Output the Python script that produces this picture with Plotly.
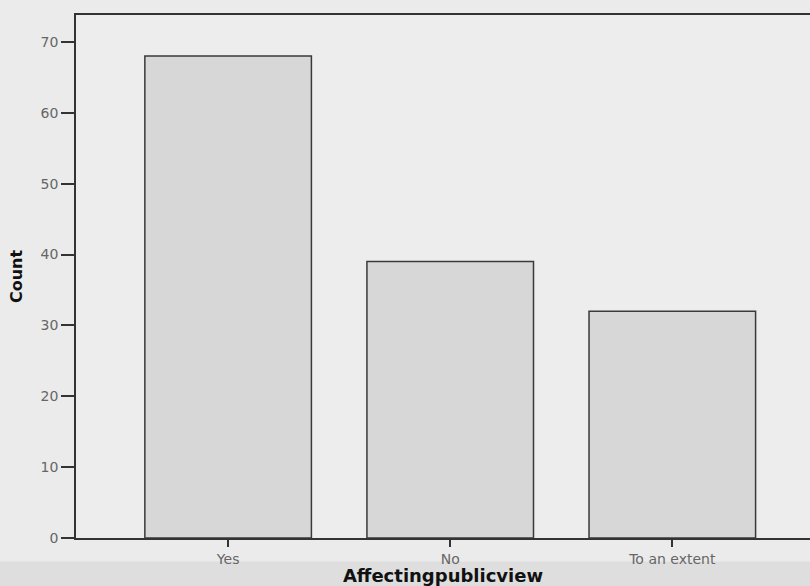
import plotly.graph_objects as go

categories = ["Yes", "No", "To an extent"]
counts = [68, 39, 32]
y_ticks = [0, 10, 20, 30, 40, 50, 60, 70]

fig = go.Figure()
fig.add_trace(go.Bar(
    x=list(range(len(categories))),
    y=counts,
    width=0.75,
    marker=dict(color="#d7d7d7", line=dict(color="#3a3a3a", width=1.5)),
    showlegend=False,
))

fig.update_layout(
    width=810, height=586,
    margin=dict(l=76, r=0, t=15, b=48),
    paper_bgcolor="#ebebeb",
    plot_bgcolor="#ededed",
    font=dict(family="DejaVu Sans, Arial, sans-serif", color="#555"),
    bargap=0.25,
    shapes=[dict(type="rect", xref="paper", yref="paper", x0=-0.2, x1=1.1,
                 y0=-0.1, y1=-0.045, fillcolor="#dedede", line=dict(width=0), layer="below")],
)
fig.update_xaxes(
    range=[-0.685, 2.62],
    tickmode="array", tickvals=list(range(len(categories))), ticktext=categories,
    ticks="outside", ticklen=7, tickwidth=1.5, tickcolor="#333",
    showline=True, linecolor="#333", linewidth=1.5, mirror=True,
    showgrid=False, zeroline=False,
    tickfont=dict(size=14, color="#666"),
    title=dict(text="<b>Affectingpublicview</b>", font=dict(size=18, color="#111"), standoff=4),
)
fig.update_yaxes(
    range=[0, 73.8],
    tickmode="array", tickvals=y_ticks,
    ticks="outside", ticklen=13, tickwidth=1.5, tickcolor="#333",
    showline=True, linecolor="#333", linewidth=1.5,
    showgrid=False, zeroline=False,
    tickfont=dict(size=14, color="#666"),
    title=dict(text="<b>Count</b>", font=dict(size=16, color="#111"), standoff=14),
)

fig.write_html(
    "out.html",
    config={"displayModeBar": False},
    post_script="document.body.style.margin='0';document.body.style.background='#ebebeb';",
)
